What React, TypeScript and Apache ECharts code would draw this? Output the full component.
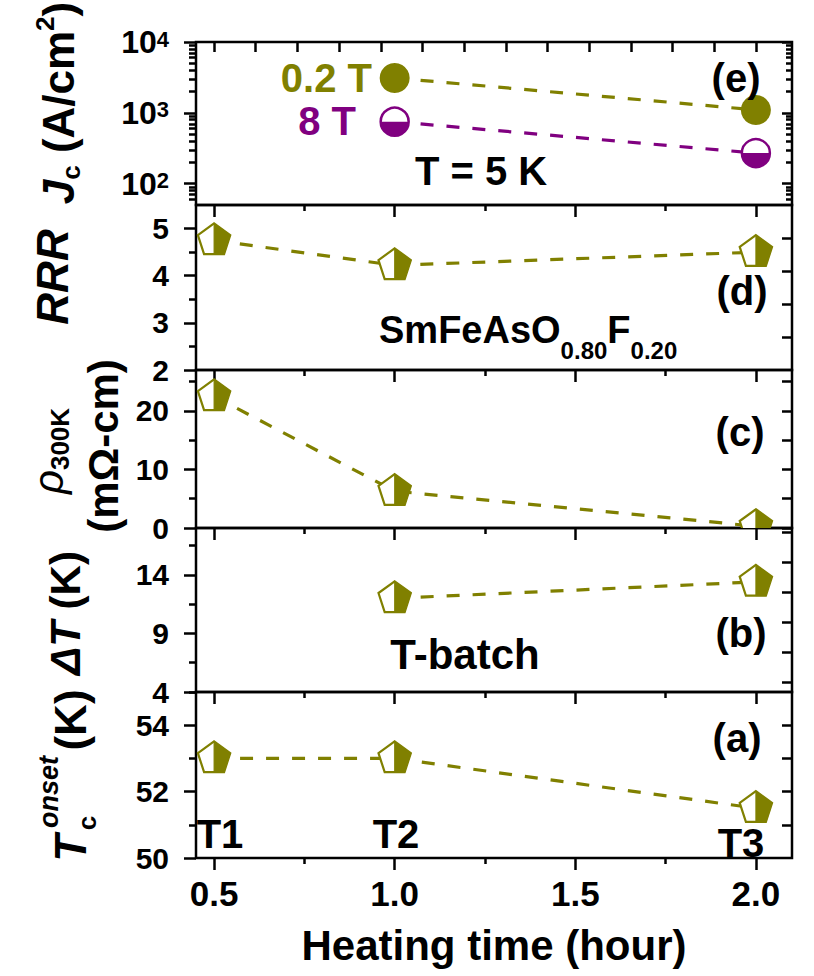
import React, { useEffect, useRef } from 'react';
import * as echarts from 'echarts';

const OLIVE = '#808000';
const PURPLE = '#800080';
const FONT = 'Arial, "Liberation Sans", Helvetica, sans-serif';

// ---------- data ----------
const jcTime = [1.0, 2.0];
const jc02T = [3100, 1100];
const jc8T = [750, 270];
const rrrTime = [0.5, 1.0, 2.0];
const rrr = [4.75, 4.22, 4.5];
const rhoTime = [0.5, 1.0, 2.0];
const rho300K = [22.5, 6.3, 0.3];
const dTTime = [1.0, 2.0];
const deltaT = [12.0, 13.4];
const tcTime = [0.5, 1.0, 2.0];
const tcOnset = [53.0, 53.0, 51.5];
const batchLabels = ['T1', 'T2', 'T3'];

// ---------- ticks ----------
const xMajorTicks = [0.5, 1.0, 1.5, 2.0];
const xMinorTicks = [0.75, 1.25, 1.75];
const xTopTicksE = [0.5, 0.615, 0.731, 0.846, 0.962, 1.077, 1.192, 1.308, 1.423, 1.538, 1.654, 1.769, 1.885, 2.0];
const jcMajor = [100, 1000, 10000];
const jcMinor = [60, 70, 80, 90, 200, 300, 400, 500, 600, 700, 800, 900, 2000, 3000, 4000, 5000, 6000, 7000, 8000, 9000];
const rrrMajor = [2, 3, 4, 5];
const rrrMinor = [2.5, 3.5, 4.5];
const rrrRight = [2.7, 3.4, 4.1, 4.8];
const rhoMajor = [0, 10, 20];
const rhoMinor = [5, 15, 25];
const rhoRight = [0, 5, 10, 15, 20, 25];
const dTMajor = [4, 9, 14];
const dTMinor = [6.5, 11.5, 16.5];
const dTRight = [4.85, 7.4, 9.95, 12.5, 15.05, 17.6];
const tcMajor = [50, 52, 54];
const tcMinor = [51, 53, 55];
const tcRight = [51, 52, 53, 54];

const zip = (xs: number[], ys: number[]) => xs.map((x, i) => [x, ys[i]]);
const bold = (size: number, extra: any = {}) => ({ fontSize: size, fontWeight: 'bold', fontFamily: FONT, ...extra });
const tickLine = { color: '#000', width: 2.5 };

function pentagonItem(params: any, api: any) {
  const p = api.coord([api.value(0), api.value(1)]);
  const R = 17;
  const pts = [0, 1, 2, 3, 4].map((k) => {
    const a = -Math.PI / 2 + (k * 2 * Math.PI) / 5;
    return [p[0] + R * Math.cos(a), p[1] + R * Math.sin(a)];
  });
  const bottomMid = [p[0], pts[2][1]];
  return {
    type: 'group',
    children: [
      { type: 'polygon', shape: { points: pts }, style: { fill: '#fff', stroke: OLIVE, lineWidth: 2.2 } },
      { type: 'polygon', shape: { points: [pts[0], pts[1], pts[2], bottomMid] }, style: { fill: OLIVE, stroke: OLIVE, lineWidth: 1 } },
    ],
  };
}

function fullCircleItem(params: any, api: any) {
  const p = api.coord([api.value(0), api.value(1)]);
  return { type: 'circle', shape: { cx: p[0], cy: p[1], r: 15 }, style: { fill: OLIVE } };
}

function halfCircleItem(params: any, api: any) {
  const p = api.coord([api.value(0), api.value(1)]);
  return {
    type: 'group',
    children: [
      { type: 'circle', shape: { cx: p[0], cy: p[1], r: 14 }, style: { fill: '#fff', stroke: PURPLE, lineWidth: 2.5 } },
      { type: 'sector', shape: { cx: p[0], cy: p[1], r0: 0, r: 14, startAngle: 0, endAngle: Math.PI, clockwise: true }, style: { fill: PURPLE } },
    ],
  };
}

function buildOption() {
  const panels: any[] = [
    { top: 42, height: 163, type: 'log', min: 50, max: 10000, major: jcMajor, minor: jcMinor, rightMajor: jcMajor, rightMinor: jcMinor,
      fmt: (v: number) => `{b|10}{sup|${Math.round(Math.log10(v))}}` },
    { top: 205, height: 165, type: 'value', min: 2, max: 5.5, major: rrrMajor, minor: rrrMinor, rightMajor: rrrRight, fmt: (v: number) => `${v}` },
    { top: 370, height: 158, type: 'value', min: 0, max: 27, major: rhoMajor, minor: rhoMinor, rightMajor: rhoRight, fmt: (v: number) => `${v}` },
    { top: 528, height: 164, type: 'value', min: 4, max: 18, major: dTMajor, minor: dTMinor, rightMajor: dTRight, fmt: (v: number) => `${v}` },
    { top: 692, height: 166, type: 'value', min: 50, max: 55, major: tcMajor, minor: tcMinor, rightMajor: tcRight, fmt: (v: number) => `${v}` },
  ];

  const grid = panels.map((p) => ({
    left: 196, right: 22, top: p.top, height: p.height,
    show: true, borderColor: '#000', borderWidth: 2.5, backgroundColor: 'transparent',
    containLabel: false, outerBoundsMode: 'none',
  }));

  const xAxes: any[] = [];
  const yAxes: any[] = [];
  const xIdx: number[] = [];
  const yIdx: number[] = [];

  panels.forEach((p, i) => {
    const baseX = { type: 'value', gridIndex: i, min: 0.45, max: 2.1, axisLine: { show: false, onZero: false }, splitLine: { show: false } };
    xIdx.push(xAxes.length);
    const major: any = {
      ...baseX, position: 'bottom',
      axisTick: { show: true, length: 12, customValues: xMajorTicks, lineStyle: tickLine },
      axisLabel: i === 4
        ? { show: true, customValues: xMajorTicks, formatter: (v: number) => v.toFixed(1), margin: 18, color: '#000', ...bold(35) }
        : { show: false },
    };
    if (i === 4) {
      major.name = 'Heating time (hour)';
      major.nameLocation = 'middle';
      major.nameGap = 66;
      major.nameTextStyle = { color: '#000', ...bold(42) };
    }
    xAxes.push(major);
    xAxes.push({ ...baseX, position: 'bottom', axisTick: { show: true, length: 6, customValues: xMinorTicks, lineStyle: tickLine }, axisLabel: { show: false } });
    if (i === 0) {
      xAxes.push({ ...baseX, position: 'top', axisTick: { show: true, inside: true, length: 10, customValues: xTopTicksE, lineStyle: tickLine }, axisLabel: { show: false } });
    }

    const baseY: any = { type: p.type, gridIndex: i, min: p.min, max: p.max, axisLine: { show: false, onZero: false }, splitLine: { show: false } };
    if (p.type === 'log') baseY.logBase = 10;
    yIdx.push(yAxes.length);
    yAxes.push({
      ...baseY, position: 'left',
      axisTick: { show: true, length: 12, customValues: p.major, lineStyle: tickLine },
      axisLabel: {
        show: true, customValues: p.major, formatter: p.fmt, margin: 27, color: '#000', ...bold(30), lineHeight: 28,
        rich: {
          b: { ...bold(32), color: '#000', lineHeight: 28 },
          sup: { ...bold(22), color: '#000', verticalAlign: 'top', lineHeight: 12 },
        },
      },
    });
    yAxes.push({ ...baseY, position: 'left', axisTick: { show: true, length: 7, customValues: p.minor, lineStyle: tickLine }, axisLabel: { show: false } });
    yAxes.push({ ...baseY, position: 'right', axisTick: { show: true, inside: true, length: 10, customValues: p.rightMajor, lineStyle: tickLine }, axisLabel: { show: false } });
    if (p.rightMinor) {
      yAxes.push({ ...baseY, position: 'right', axisTick: { show: true, inside: true, length: 6, customValues: p.rightMinor, lineStyle: tickLine }, axisLabel: { show: false } });
    }
  });

  const dashLine = (i: number, data: number[][], color: string) => ({
    type: 'line', xAxisIndex: xIdx[i], yAxisIndex: yIdx[i], data, symbol: 'none', showSymbol: false, silent: true,
    lineStyle: { color, width: 3.2, type: [13, 13] }, z: 2, animation: false,
  });
  const markers = (i: number, data: number[][], renderItem: any) => ({
    type: 'custom', xAxisIndex: xIdx[i], yAxisIndex: yIdx[i], data, renderItem, clip: true, z: 5, silent: true, animation: false,
  });

  const series = [
    dashLine(0, zip(jcTime, jc02T), OLIVE),
    dashLine(0, zip(jcTime, jc8T), PURPLE),
    markers(0, zip(jcTime, jc02T), fullCircleItem),
    markers(0, zip(jcTime, jc8T), halfCircleItem),
    dashLine(1, zip(rrrTime, rrr), OLIVE),
    markers(1, zip(rrrTime, rrr), pentagonItem),
    dashLine(2, zip(rhoTime, rho300K), OLIVE),
    markers(2, zip(rhoTime, rho300K), pentagonItem),
    dashLine(3, zip(dTTime, deltaT), OLIVE),
    markers(3, zip(dTTime, deltaT), pentagonItem),
    dashLine(4, zip(tcTime, tcOnset), OLIVE),
    markers(4, zip(tcTime, tcOnset), pentagonItem),
  ];

  const txt = (x: number, y: number, text: string, style: any, extra: any = {}) => ({
    type: 'text', x, y, z: 100, ...extra,
    style: { text, fill: '#000', align: 'center', verticalAlign: 'middle', ...style },
  });
  const vtxt = (x: number, y: number, text: string, style: any) => txt(x, y, text, style, { rotation: Math.PI / 2 });

  const graphic = [
    txt(372, 78, '0.2 T', { ...bold(40), fill: OLIVE, align: 'right' }),
    txt(356, 121, '8 T', { ...bold(40), fill: PURPLE, align: 'right' }),
    txt(481, 171, 'T = 5 K', { ...bold(40) }),
    txt(736, 78, '(e)', { ...bold(40) }),
    txt(742, 291, '(d)', { ...bold(40) }),
    txt(379, 330, '{m|SmFeAsO}{s|0.80}{m|F}{s|0.20}', {
      ...bold(38), align: 'left',
      rich: { m: { ...bold(38), lineHeight: 64 }, s: { ...bold(24), lineHeight: 24, verticalAlign: 'bottom' } },
    }),
    txt(740, 432, '(c)', { ...bold(40) }),
    txt(741, 633, '(b)', { ...bold(40) }),
    txt(465, 654, 'T-batch', { ...bold(42) }),
    txt(737, 738, '(a)', { ...bold(40) }),
    txt(220, 834, batchLabels[0], { ...bold(40) }),
    txt(396, 834, batchLabels[1], { ...bold(40) }),
    txt(741, 843, batchLabels[2], { ...bold(40) }),
    // y-axis titles
    vtxt(58, 103, '{i|J}{sub|c}{n| (A/cm}{sup|2}{n|)}', {
      ...bold(44),
      rich: {
        i: { ...bold(44, { fontStyle: 'italic' }), lineHeight: 52 },
        n: { ...bold(44), lineHeight: 52 },
        sub: { ...bold(26), lineHeight: 28, verticalAlign: 'bottom' },
        sup: { ...bold(26), lineHeight: 28, verticalAlign: 'top' },
      },
    }),
    vtxt(52, 277, 'RRR', { ...bold(44, { fontStyle: 'italic' }) }),
    vtxt(48, 451, '{r|ρ}{s|300K}', {
      ...bold(42),
      rich: {
        r: { ...bold(42, { fontStyle: 'italic', fontWeight: 'normal' }), lineHeight: 50 },
        s: { ...bold(26), lineHeight: 24, verticalAlign: 'bottom' },
      },
    }),
    vtxt(103, 446, '(mΩ-cm)', { ...bold(42) }),
    vtxt(65, 613, '{i|ΔT}{n| (K)}', {
      ...bold(42),
      rich: { i: { ...bold(42, { fontStyle: 'italic' }) }, n: { ...bold(42) } },
    }),
    vtxt(70, 848, 'T', { ...bold(44, { fontStyle: 'italic' }) }),
    vtxt(87, 823, 'c', { ...bold(26) }),
    vtxt(49, 792, 'onset', { ...bold(27, { fontStyle: 'italic' }) }),
    vtxt(70, 720, '(K)', { ...bold(44) }),
  ];

  return {
    animation: false,
    backgroundColor: '#fff',
    grid,
    xAxis: xAxes,
    yAxis: yAxes,
    series,
    graphic,
  };
}

export default function App() {
  const ref = useRef<HTMLDivElement>(null);
  useEffect(() => {
    const chart = echarts.init(ref.current as HTMLDivElement, null, { renderer: 'svg' });
    chart.setOption(buildOption() as any);
    return () => chart.dispose();
  }, []);
  return <div ref={ref} style={{ position: 'absolute', left: 0, top: 0, width: 814, height: 976, background: '#fff' }} />;
}
